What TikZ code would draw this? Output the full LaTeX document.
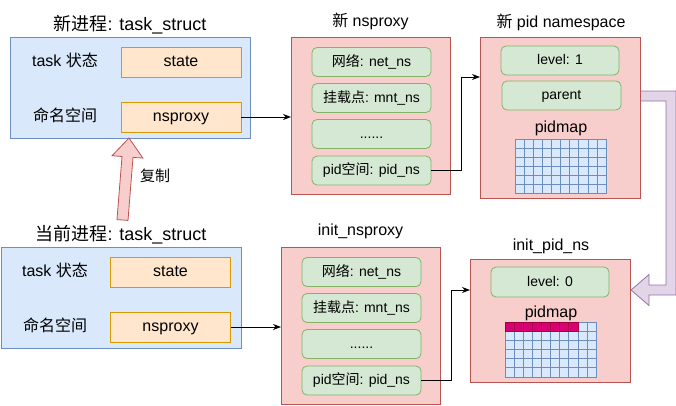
\documentclass[tikz,border=0pt]{standalone}
\usepackage{fontspec}
\setmainfont{Liberation Sans}
\newfontfamily\cjk{Noto Sans CJK SC}
\usetikzlibrary{arrows.meta}
\definecolor{blueF}{HTML}{DAE8FC}
\definecolor{blueS}{HTML}{6C8EBF}
\definecolor{orangeF}{HTML}{FFE6CC}
\definecolor{orangeS}{HTML}{D79B00}
\definecolor{redF}{HTML}{F8CECC}
\definecolor{redS}{HTML}{B85450}
\definecolor{greenF}{HTML}{D5E8D4}
\definecolor{greenS}{HTML}{82B366}
\definecolor{purpleF}{HTML}{E1D5E7}
\definecolor{purpleS}{HTML}{9673A6}
\definecolor{magF}{HTML}{D80073}
\definecolor{magS}{HTML}{A50040}
\begin{document}
\begin{tikzpicture}[x=1pt,y=-1pt,
  every node/.style={inner sep=0pt, outer sep=0pt},
  f18/.style={font=\fontsize{18}{21}\selectfont, text height=13.5pt, text depth=2.7pt},
  f16/.style={font=\fontsize{16}{19}\selectfont, text height=12pt, text depth=2.4pt},
  f15/.style={font=\fontsize{15}{18}\selectfont, text height=11.25pt, text depth=2.25pt},
  f14/.style={font=\fontsize{14}{17}\selectfont, text height=10.5pt, text depth=2.1pt},
  bluebox/.style={draw=blueS, fill=blueF, line width=0.8pt, minimum width=240pt, minimum height=101pt},
  orangebox/.style={draw=orangeS, fill=orangeF, line width=0.8pt, minimum width=120pt, minimum height=30pt, f16},
  redbox/.style={draw=redS, fill=redF, line width=0.8pt},
  greenbox/.style={draw=greenS, fill=greenF, line width=0.8pt, rounded corners=5pt, minimum width=119pt, minimum height=29pt, f14},
  bigtitle/.style={f18},
  ttl/.style={f16},
  lbl/.style={f16},
  conn/.style={-{Stealth[length=8pt,width=6pt]}, line width=0.8pt, black},
  cell/.style={draw=blueS, fill=blueF, line width=0.6pt},
  magcell/.style={draw=magS, fill=magF, line width=0.6pt}
]
\useasboundingbox (0,0) rectangle (676,405);

% ---------- new task_struct ----------
\node[bigtitle] (t1) at (130,25) {{\cjk 新进程}: task\_struct};
\node[bluebox] (ts1) at (130,87.5) {};
\node[lbl] (l1a) at (65,62) {task {\cjk 状态}};
\node[lbl] (l1b) at (65,117) {\cjk 命名空间};
\node[orangebox] (st1) at (181,62) {state};
\node[orangebox] (np1) at (181,117) {nsproxy};

% ---------- current task_struct ----------
\node[bigtitle] (t2) at (121,235) {{\cjk 当前进程}: task\_struct};
\node[bluebox] (ts2) at (121,297.5) {};
\node[lbl] (l2a) at (55,272) {task {\cjk 状态}};
\node[lbl] (l2b) at (55,327) {\cjk 命名空间};
\node[orangebox] (st2) at (170.5,272) {state};
\node[orangebox] (np2) at (170.5,327) {nsproxy};

% ---------- copy arrow ----------
\filldraw[draw=redS, fill=redF, line width=0.8pt, line join=miter]
  (117.0,219.6) -- (128.0,220.4) -- (133.0,157.4) -- (142.9,158.1) -- (129,138)
  -- (112.1,155.7) -- (122.0,156.5) -- cycle;
\node[f15] (cp) at (155,177) {\cjk 复制};

% ---------- new nsproxy ----------
\node[ttl] (t3) at (370.5,22) {{\cjk 新} nsproxy};
\node[redbox, minimum width=159pt, minimum height=157pt] (ns1) at (370.5,115.5) {};
\node[greenbox] (a1) at (371.5,62) {{\cjk 网络}: net\_ns};
\node[greenbox] (b1) at (371.5,98) {{\cjk 挂载点}: mnt\_ns};
\node[greenbox] (c1) at (371.5,134) {......};
\node[greenbox] (d1) at (371.5,170.5) {pid{\cjk 空间}: pid\_ns};

% ---------- init_nsproxy ----------
\node[ttl] (t4) at (360.5,231) {init\_nsproxy};
\node[redbox, minimum width=159pt, minimum height=157pt] (ns2) at (360.5,325.5) {};
\node[greenbox] (a2) at (361.5,272) {{\cjk 网络}: net\_ns};
\node[greenbox] (b2) at (361.5,308) {{\cjk 挂载点}: mnt\_ns};
\node[greenbox] (c2) at (361.5,344) {......};
\node[greenbox] (d2) at (361.5,380.5) {pid{\cjk 空间}: pid\_ns};

% ---------- purple parent arrow ----------
\filldraw[draw=purpleS, fill=purpleF, line width=0.8pt, line join=miter]
  (618,91) -- (676,91) -- (676,295) -- (649,295) -- (649,305.5) -- (631,290)
  -- (649,274.5) -- (649,285) -- (666,285) -- (666,101) -- (618,101) -- cycle;

% ---------- new pid namespace ----------
\node[ttl] (t5) at (561,23) {{\cjk 新} pid namespace};
\node[redbox, minimum width=160pt, minimum height=161pt] (pn1) at (560,117.5) {};
\node[greenbox, minimum width=118pt] (lv1) at (560,60.5) {level: 1};
\node[greenbox] (par) at (561.5,95.5) {parent};
\node[lbl] (pm1) at (561,128) {pidmap};
\foreach \i in {0,...,9}
  \foreach \j in {0,...,5}
    \draw[cell] (515+9.1*\i,139+9*\j) rectangle ++(9.1,9);

% ---------- init_pid_ns ----------
\node[ttl] (t6) at (551,246) {init\_pid\_ns};
\node[redbox, minimum width=160pt, minimum height=123pt] (pn2) at (550,320.5) {};
\node[greenbox, minimum width=118pt, minimum height=30pt] (lv0) at (550,282) {level: 0};
\node[lbl] (pm2) at (551,313) {pidmap};
\foreach \i in {0,...,9}
  \foreach \j in {0,...,5}
    \draw[cell] (505+9.1*\i,322+9.15*\j) rectangle ++(9.1,9.15);
\foreach \i in {0,...,7}
  \draw[magcell] (505+9.1*\i,322) rectangle ++(9.1,9.15);

% ---------- connectors ----------
\draw[conn] (np1.east) -- (np1.east -| ns1.west);
\draw[conn] (np2.east) -- (np2.east -| ns2.west);
\coordinate (k1) at (461,77);
\coordinate (k2) at (451,290);
\draw[conn] (d1.east) -| (k1) -- (k1 -| pn1.west);
\draw[conn] (d2.east) -| (k2) -- (k2 -| pn2.west);
\end{tikzpicture}
\end{document}
